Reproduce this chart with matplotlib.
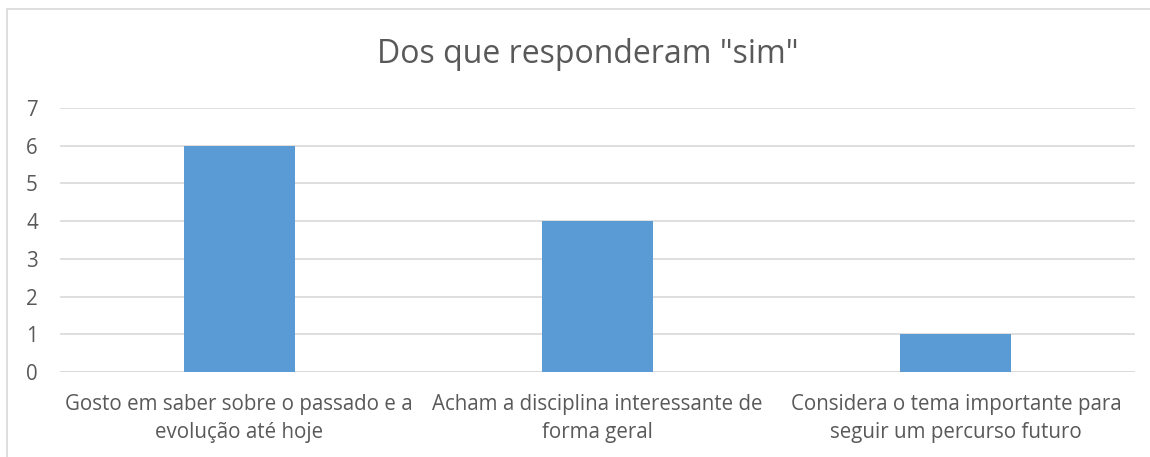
import matplotlib.pyplot as plt
from matplotlib.patches import Rectangle

plt.rcParams['font.family'] = ['Open Sans', 'DejaVu Sans']

# dados
categorias = ['Gosto em saber sobre o passado e a\nevolução até hoje',
              'Acham a disciplina interessante de\nforma geral',
              'Considera o tema importante para\nseguir um percurso futuro']
valores = [6, 4, 1]
titulo = 'Dos que responderam "sim"'

fig = plt.figure(figsize=(11.5, 4.57), dpi=100)
ax = fig.add_axes([0.0522, 0.186, 0.9348, 0.5777])

x = range(len(categorias))
ax.bar(x, valores, width=0.31, color='#5b9bd5', zorder=3)

ax.set_xlim(-0.5, len(categorias) - 0.5)
ax.set_ylim(0, 7)
ax.set_yticks(range(0, 8))
ax.set_xticks(list(x))
ax.set_xticklabels(categorias, fontsize=14.8, color='#595959', linespacing=1.45)
ax.tick_params(axis='y', labelsize=14.8, labelcolor='#595959', length=0, pad=16)
ax.tick_params(axis='x', length=0, pad=16)
ax.yaxis.grid(True, color='#d9d9d9', linewidth=1.2, zorder=0)
for s in ax.spines.values():
    s.set_visible(False)
ax.axhline(0, color='#d9d9d9', linewidth=1.2, zorder=2)

fig.text(0.511, 0.88, titulo, ha='center', va='center', fontsize=23, color='#595959')

# moldura do gráfico
fig.add_artist(Rectangle((7 / 1150, -0.1), 1.2, 1 - 9 / 457 + 0.1, transform=fig.transFigure,
                         fill=False, edgecolor='#d9d9d9', linewidth=1.2))

fig.savefig('out.png', dpi=100)
